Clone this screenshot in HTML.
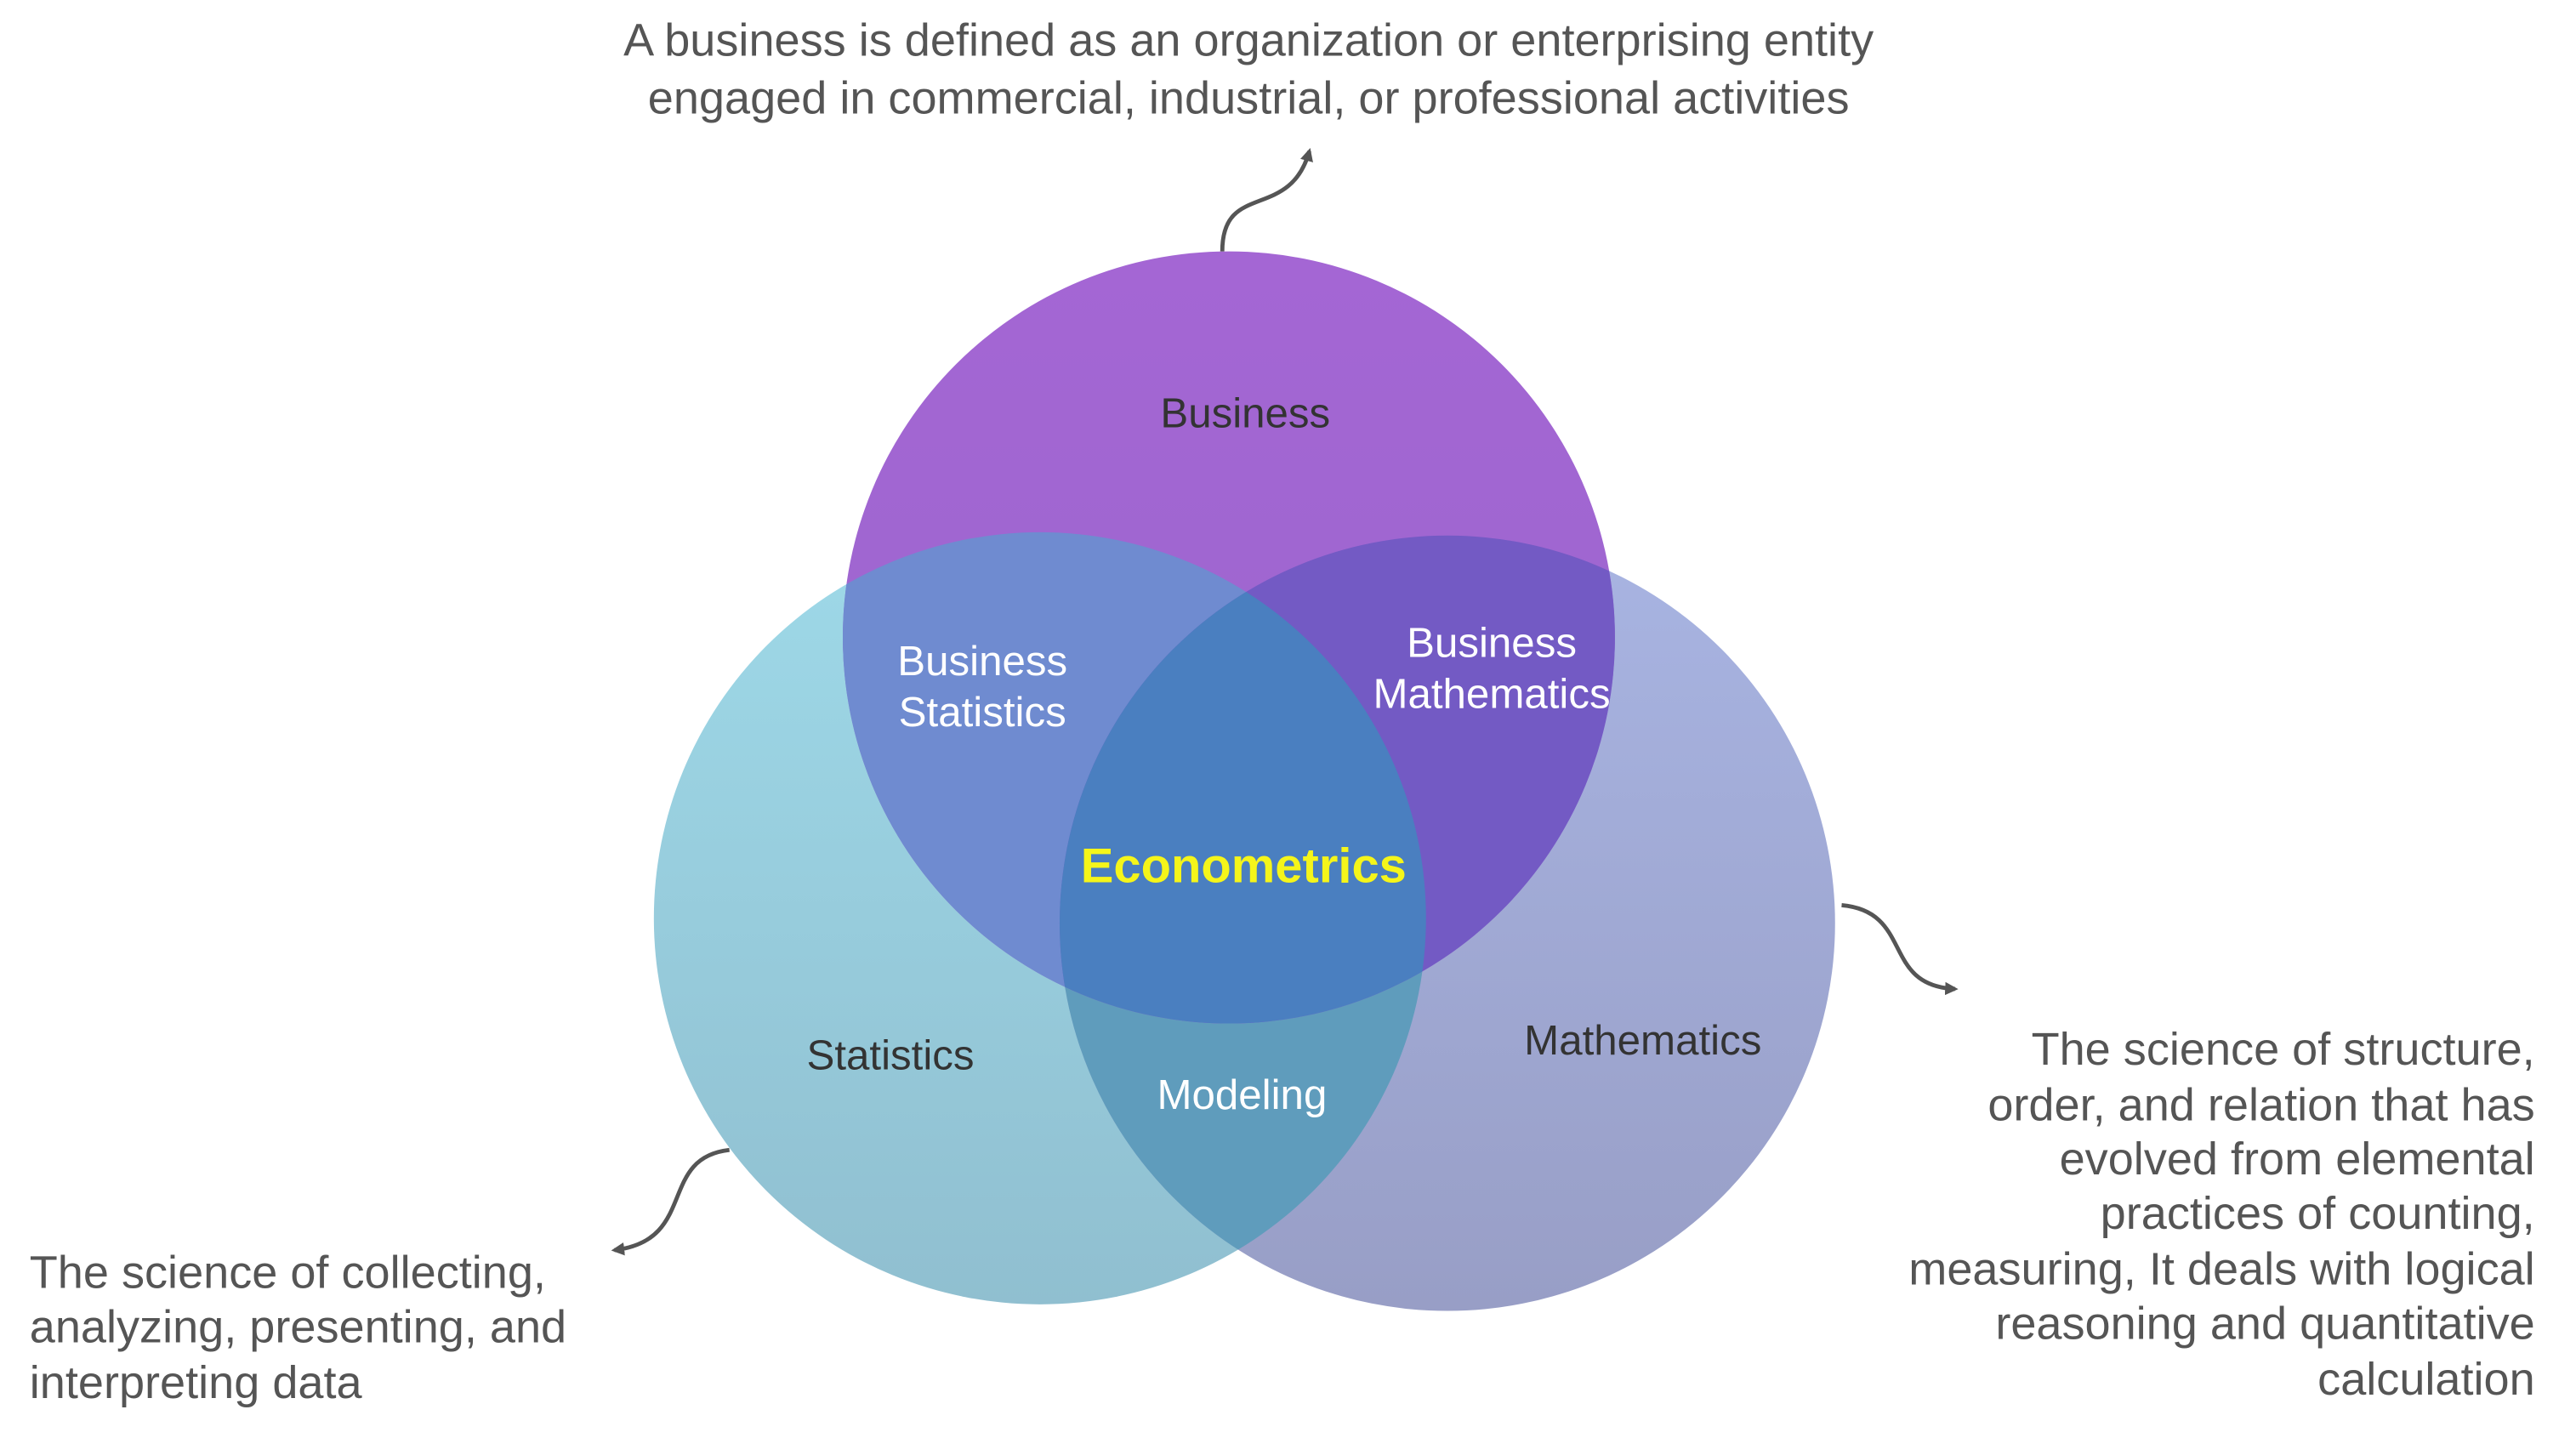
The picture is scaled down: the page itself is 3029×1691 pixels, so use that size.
<!DOCTYPE html>
<html><head><meta charset="utf-8"><style>
html,body{margin:0;padding:0;background:#fff;}
svg{display:block;}
text{font-family:"Liberation Sans",Arial,sans-serif;}
</style></head><body>
<svg width="3029" height="1691" viewBox="0 0 1568 875.35" xmlns="http://www.w3.org/2000/svg">
<defs>
<linearGradient id="gB" x1="0" y1="0" x2="0" y2="1"><stop offset="0" stop-color="#a466d4"/><stop offset="1" stop-color="#9a66cc"/></linearGradient>
<linearGradient id="gS" x1="0" y1="0" x2="0" y2="1"><stop offset="0" stop-color="#9ed9e8"/><stop offset="1" stop-color="#90bfd0"/></linearGradient>
<linearGradient id="gM" x1="0" y1="0" x2="0" y2="1"><stop offset="0" stop-color="#a8b4e2"/><stop offset="1" stop-color="#989ec6"/></linearGradient>
<clipPath id="cB"><circle cx="748" cy="388" r="235"/></clipPath>
<clipPath id="cS"><circle cx="633" cy="559" r="235"/></clipPath>
<clipPath id="cM"><circle cx="881" cy="562" r="236"/></clipPath>
<marker id="ah" markerWidth="8" markerHeight="8" refX="6" refY="4" orient="auto" markerUnits="userSpaceOnUse"><path d="M0,0 L8,4 L0,8 Z" fill="#555"/></marker>
</defs>
<circle cx="633" cy="559" r="235" fill="url(#gS)"/>
<circle cx="881" cy="562" r="236" fill="url(#gM)"/>
<g clip-path="url(#cS)"><circle cx="881" cy="562" r="236" fill="#5f9cbc"/></g>
<circle cx="748" cy="388" r="235" fill="url(#gB)"/>
<g clip-path="url(#cB)"><circle cx="633" cy="559" r="235" fill="#6f8bd0"/><circle cx="881" cy="562" r="236" fill="#735ac4"/>
<g clip-path="url(#cS)"><circle cx="881" cy="562" r="236" fill="#4a7fc0"/></g></g>
<g font-size="25.5" text-anchor="middle">
<text x="758" y="260" fill="#333">Business</text>
<text x="542" y="651" fill="#333">Statistics</text>
<text x="1000" y="642" fill="#333">Mathematics</text>
<text x="598" y="411" fill="#fff">Business</text>
<text x="598" y="442" fill="#fff">Statistics</text>
<text x="908" y="400" fill="#fff">Business</text>
<text x="908" y="431" fill="#fff">Mathematics</text>
<text x="756" y="675" fill="#fff">Modeling</text>
<text x="757" y="537" fill="#f5f51a" font-weight="bold" font-size="30">Econometrics</text>
</g>
<g fill="none" stroke="#555" stroke-width="2.5">
<path d="M744,153 C744,110 785,135 797,92" marker-end="url(#ah)"/>
<path d="M1121,551 C1165,555 1145,600 1190,602" marker-end="url(#ah)"/>
<path d="M444,700 C400,705 425,755 374,761" marker-end="url(#ah)"/>
</g>
<g font-size="28" fill="#555">
<text text-anchor="middle"><tspan x="760" y="34">A business is defined as an organization or enterprising entity</tspan><tspan x="760" y="69">engaged in commercial, industrial, or professional activities</tspan></text>
<text text-anchor="end"><tspan x="1543" y="648">The science of structure,</tspan><tspan x="1543" y="682">order, and relation that has</tspan><tspan x="1543" y="715">evolved from elemental</tspan><tspan x="1543" y="748">practices of counting,</tspan><tspan x="1543" y="782">measuring, It deals with logical</tspan><tspan x="1543" y="815">reasoning and quantitative</tspan><tspan x="1543" y="849">calculation</tspan></text>
<text><tspan x="18" y="784">The science of collecting,</tspan><tspan x="18" y="817">analyzing, presenting, and</tspan><tspan x="18" y="851">interpreting data</tspan></text>
</g>
</svg>
</body></html>
